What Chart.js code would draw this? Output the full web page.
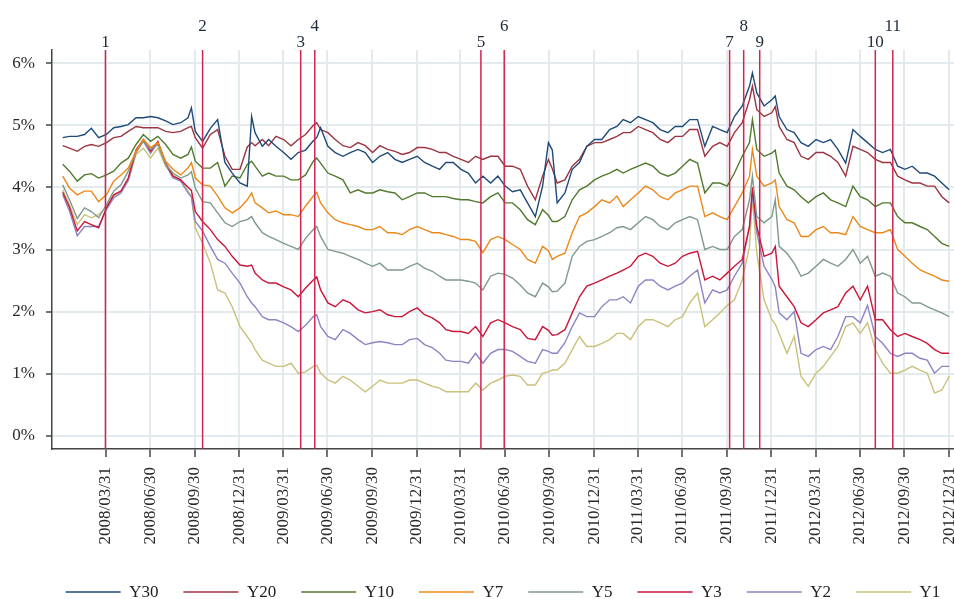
<!DOCTYPE html>
<html>
<head>
<meta charset="utf-8">
<title>Yield curve 2008-2012</title>
<script src="https://cdn.jsdelivr.net/npm/chart.js@4.4.1/dist/chart.umd.min.js"></script>
<style>
  html, body { margin: 0; padding: 0; background: #fff; overflow: hidden; }
  #yieldChart { display: block; }
</style>
</head>
<body>
<canvas id="yieldChart" width="954" height="599"></canvas>
<script>
// sample dates (about two per month, plus a few spike days)
const dates = [
  "2008-01-02","2008-01-16","2008-02-01","2008-02-16","2008-03-01","2008-03-16","2008-04-01","2008-04-16","2008-05-01","2008-05-16",
  "2008-06-01","2008-06-16","2008-07-01","2008-07-16","2008-08-01","2008-08-16","2008-09-01","2008-09-16","2008-09-23","2008-10-01",
  "2008-10-16","2008-11-01","2008-11-16","2008-12-01","2008-12-16",
  "2009-01-01","2009-01-16","2009-01-25","2009-02-01","2009-02-16","2009-03-01","2009-03-16","2009-04-01","2009-04-16","2009-05-01",
  "2009-05-16","2009-06-01","2009-06-08","2009-06-16","2009-07-01","2009-07-16","2009-08-01","2009-08-16","2009-09-01","2009-09-16",
  "2009-10-01","2009-10-16","2009-11-01","2009-11-16","2009-12-01","2009-12-16",
  "2010-01-01","2010-01-16","2010-02-01","2010-02-16","2010-03-01","2010-03-16","2010-04-01","2010-04-16","2010-05-01","2010-05-16",
  "2010-06-01","2010-06-16","2010-07-01","2010-07-16","2010-08-01","2010-08-16","2010-09-01","2010-09-16","2010-09-28","2010-10-06",
  "2010-10-16","2010-11-01","2010-11-16","2010-12-01","2010-12-16",
  "2011-01-01","2011-01-16","2011-02-01","2011-02-16","2011-03-01","2011-03-16","2011-04-01","2011-04-16","2011-05-01","2011-05-16",
  "2011-06-01","2011-06-16","2011-07-01","2011-07-16","2011-08-01","2011-08-16","2011-09-01","2011-09-16","2011-10-01","2011-10-16",
  "2011-11-01","2011-11-16","2011-11-22","2011-12-01","2011-12-16",
  "2012-01-01","2012-01-08","2012-01-16","2012-02-01","2012-02-16","2012-03-01","2012-03-16","2012-04-01","2012-04-16","2012-05-01",
  "2012-05-16","2012-06-01","2012-06-16","2012-07-01","2012-07-16","2012-08-01","2012-08-16","2012-09-01","2012-09-16","2012-10-01",
  "2012-10-16","2012-11-01","2012-11-16","2012-12-01","2012-12-16","2012-12-31"
];

const y30 = [
  4.80,4.82,4.82,4.85,4.95,4.80,4.85,4.96,4.98,5.01,5.12,5.12,5.14,5.12,5.07,5.01,5.04,5.12,5.28,4.90,4.74,4.95,5.09,4.40,4.23,
  4.07,4.02,5.14,4.88,4.66,4.77,4.66,4.56,4.45,4.56,4.60,4.75,4.80,4.96,4.66,4.56,4.50,4.56,4.61,4.56,4.40,4.50,4.56,4.45,4.40,4.45,
  4.50,4.40,4.34,4.29,4.40,4.40,4.29,4.23,4.07,4.18,4.07,4.18,4.02,3.93,3.96,3.75,3.53,4.02,4.72,4.60,3.75,3.91,4.29,4.40,4.66,
  4.77,4.77,4.93,4.98,5.09,5.04,5.14,5.09,5.04,4.93,4.88,4.98,4.98,5.09,5.09,4.66,4.98,4.93,4.88,5.14,5.31,5.63,5.84,5.52,5.31,
  5.41,5.47,5.14,4.93,4.88,4.72,4.66,4.77,4.72,4.77,4.61,4.39,4.93,4.82,4.72,4.61,4.56,4.61,4.34,4.29,4.34,4.23,4.23,4.18,4.07,3.96
];
const y20 = [
  4.67,4.63,4.58,4.66,4.69,4.66,4.72,4.80,4.82,4.90,4.98,4.96,4.96,4.96,4.90,4.88,4.90,4.96,4.98,4.80,4.63,4.85,4.93,4.50,4.29,
  4.29,4.65,4.72,4.67,4.77,4.67,4.82,4.77,4.67,4.77,4.85,5.00,5.04,4.93,4.88,4.77,4.67,4.64,4.72,4.67,4.56,4.67,4.61,4.58,4.53,4.56,
  4.64,4.64,4.61,4.56,4.56,4.50,4.45,4.40,4.50,4.45,4.50,4.50,4.34,4.34,4.29,4.02,3.80,4.18,4.45,4.30,4.07,4.12,4.34,4.45,4.66,
  4.72,4.72,4.77,4.82,4.88,4.88,4.98,4.93,4.88,4.77,4.72,4.82,4.82,4.93,4.93,4.50,4.66,4.72,4.66,4.88,5.04,5.41,5.63,5.25,5.14,
  5.20,5.30,4.98,4.77,4.72,4.50,4.45,4.56,4.56,4.50,4.40,4.18,4.66,4.61,4.56,4.45,4.40,4.40,4.18,4.12,4.07,4.07,4.02,4.02,3.85,3.75
];
const y10 = [
  4.37,4.26,4.10,4.20,4.22,4.15,4.20,4.26,4.39,4.47,4.69,4.85,4.74,4.82,4.69,4.53,4.47,4.53,4.65,4.42,4.31,4.31,4.40,4.02,4.18,
  4.15,4.37,4.42,4.34,4.18,4.23,4.18,4.18,4.12,4.12,4.20,4.42,4.47,4.39,4.23,4.18,4.12,3.91,3.96,3.91,3.91,3.96,3.93,3.91,3.80,3.85,
  3.91,3.91,3.85,3.85,3.85,3.82,3.80,3.80,3.77,3.75,3.85,3.91,3.75,3.75,3.64,3.48,3.40,3.64,3.55,3.45,3.45,3.53,3.80,3.96,4.02,
  4.12,4.18,4.23,4.29,4.23,4.29,4.34,4.39,4.34,4.23,4.18,4.23,4.34,4.45,4.39,3.91,4.07,4.07,4.02,4.23,4.50,4.72,5.09,4.61,4.50,
  4.55,4.60,4.23,4.02,3.96,3.85,3.75,3.85,3.91,3.80,3.75,3.69,4.02,3.85,3.80,3.69,3.75,3.75,3.53,3.43,3.43,3.37,3.32,3.21,3.10,3.05
];
const y7 = [
  4.18,3.99,3.88,3.94,3.94,3.77,3.88,4.10,4.20,4.31,4.58,4.77,4.64,4.72,4.42,4.29,4.20,4.31,4.40,4.15,4.04,4.02,3.86,3.67,3.59,
  3.67,3.80,3.91,3.75,3.67,3.59,3.62,3.56,3.56,3.53,3.70,3.86,3.92,3.75,3.59,3.48,3.43,3.40,3.37,3.32,3.32,3.37,3.27,3.27,3.24,3.32,
  3.37,3.32,3.27,3.27,3.24,3.21,3.16,3.16,3.13,2.95,3.16,3.21,3.16,3.08,3.00,2.84,2.78,3.05,2.98,2.84,2.89,2.94,3.27,3.53,3.59,
  3.69,3.80,3.75,3.86,3.69,3.80,3.91,4.02,3.96,3.85,3.80,3.91,3.96,4.02,4.02,3.53,3.59,3.53,3.48,3.69,3.91,4.18,4.61,4.18,4.02,
  4.07,4.12,3.69,3.48,3.43,3.21,3.21,3.32,3.37,3.27,3.27,3.24,3.53,3.37,3.32,3.27,3.27,3.32,3.00,2.89,2.78,2.67,2.62,2.57,2.51,2.49
];
const y5 = [
  4.04,3.80,3.50,3.67,3.61,3.51,3.72,3.94,4.04,4.26,4.56,4.74,4.61,4.69,4.37,4.23,4.15,4.20,4.25,3.99,3.77,3.75,3.59,3.43,3.37,
  3.45,3.48,3.53,3.43,3.27,3.21,3.16,3.10,3.05,3.00,3.18,3.32,3.37,3.21,3.00,2.97,2.94,2.89,2.84,2.78,2.73,2.78,2.67,2.67,2.67,2.73,
  2.78,2.70,2.65,2.57,2.51,2.51,2.51,2.49,2.46,2.35,2.57,2.62,2.60,2.54,2.43,2.30,2.24,2.46,2.40,2.32,2.33,2.46,2.89,3.05,3.13,
  3.16,3.21,3.27,3.35,3.37,3.32,3.43,3.53,3.48,3.37,3.32,3.43,3.48,3.53,3.48,3.00,3.05,3.00,3.00,3.21,3.32,3.80,4.18,3.53,3.43,
  3.53,3.80,3.05,2.94,2.78,2.57,2.62,2.73,2.84,2.78,2.73,2.84,3.00,2.78,2.89,2.57,2.62,2.57,2.30,2.24,2.14,2.14,2.08,2.03,1.98,1.92
];
const y3 = [
  3.92,3.68,3.30,3.45,3.40,3.35,3.67,3.88,3.94,4.15,4.60,4.77,4.58,4.74,4.39,4.18,4.12,4.00,3.95,3.61,3.45,3.32,3.16,3.05,2.89,
  2.75,2.73,2.75,2.62,2.51,2.46,2.46,2.40,2.35,2.24,2.38,2.51,2.56,2.35,2.14,2.08,2.19,2.14,2.03,1.98,2.00,2.03,1.95,1.92,1.92,2.00,
  2.06,1.95,1.90,1.82,1.71,1.68,1.68,1.65,1.76,1.60,1.82,1.87,1.82,1.76,1.71,1.57,1.55,1.76,1.70,1.62,1.63,1.71,1.98,2.24,2.41,
  2.46,2.51,2.57,2.62,2.67,2.73,2.89,2.94,2.89,2.78,2.73,2.78,2.89,2.94,2.97,2.51,2.57,2.51,2.62,2.73,2.84,3.37,4.00,3.37,2.89,
  2.94,3.05,2.41,2.24,2.08,1.82,1.76,1.87,1.98,2.03,2.08,2.30,2.41,2.19,2.41,1.87,1.87,1.71,1.60,1.65,1.60,1.55,1.49,1.39,1.33,1.33
];
const y2 = [
  3.88,3.62,3.22,3.37,3.37,3.37,3.64,3.83,3.91,4.12,4.58,4.74,4.55,4.72,4.37,4.15,4.10,3.91,3.85,3.45,3.30,3.05,2.84,2.78,2.62,
  2.46,2.24,2.14,2.08,1.92,1.87,1.87,1.82,1.76,1.68,1.78,1.92,1.95,1.76,1.60,1.55,1.71,1.65,1.55,1.47,1.50,1.52,1.50,1.47,1.47,1.55,
  1.57,1.47,1.42,1.33,1.22,1.20,1.20,1.17,1.33,1.17,1.33,1.39,1.39,1.36,1.28,1.20,1.17,1.39,1.36,1.33,1.33,1.50,1.76,1.98,1.92,
  1.92,2.08,2.19,2.19,2.24,2.14,2.41,2.51,2.51,2.41,2.35,2.41,2.46,2.57,2.67,2.14,2.35,2.30,2.35,2.57,2.78,3.37,3.90,3.27,2.73,
  2.52,2.40,1.98,1.87,2.00,1.33,1.28,1.39,1.44,1.39,1.60,1.92,1.92,1.82,2.10,1.60,1.49,1.33,1.28,1.33,1.33,1.25,1.22,1.01,1.12,1.12
];
const y1 = [
  3.96,3.72,3.40,3.56,3.51,3.56,3.69,3.86,3.94,4.10,4.53,4.63,4.47,4.63,4.34,4.20,4.12,3.94,3.85,3.35,3.10,2.78,2.35,2.30,2.08,
  1.76,1.60,1.50,1.39,1.22,1.17,1.12,1.12,1.17,1.01,1.03,1.12,1.14,1.01,0.90,0.85,0.96,0.90,0.80,0.71,0.80,0.90,0.85,0.85,0.85,0.90,
  0.90,0.85,0.80,0.77,0.71,0.71,0.71,0.71,0.85,0.74,0.85,0.90,0.96,0.98,0.96,0.82,0.82,1.01,1.03,1.06,1.06,1.17,1.39,1.60,1.44,
  1.44,1.49,1.55,1.65,1.65,1.55,1.76,1.87,1.87,1.82,1.76,1.87,1.92,2.14,2.30,1.76,1.87,1.98,2.10,2.19,2.51,3.05,3.85,2.94,2.19,
  1.87,1.80,1.65,1.33,1.60,0.96,0.80,1.01,1.12,1.28,1.44,1.76,1.82,1.65,1.82,1.39,1.17,1.01,1.01,1.06,1.12,1.06,1.01,0.69,0.74,0.96
];

const seriesNames = ["Y30", "Y20", "Y10", "Y7", "Y5", "Y3", "Y2", "Y1"];
const seriesValues = [y30, y20, y10, y7, y5, y3, y2, y1];
const seriesColors = ["#1f4a79", "#9c3541", "#527a2e", "#ec8819", "#7f998b", "#cb1639", "#8d84c3", "#c9c07a"];

const quarterEnds = [
  "2008/03/31","2008/06/30","2008/09/30","2008/12/31","2009/03/31","2009/06/30","2009/09/30","2009/12/31",
  "2010/03/31","2010/06/30","2010/09/30","2010/12/31","2011/03/31","2011/06/30","2011/09/30","2011/12/31",
  "2012/03/31","2012/06/30","2012/09/30","2012/12/31"
];
const yTicks = [0, 1, 2, 3, 4, 5, 6];

// numbered events (vertical lines)
const eventDates = ["2008-03-30","2008-10-16","2009-05-06","2009-06-04","2010-05-12","2010-06-29",
                    "2011-10-06","2011-11-04","2011-12-07","2012-08-01","2012-09-06"];
const eventNames = ["1","2","3","4","5","6","7","8","9","10","11"];

const xStart = "2007-12-11";
const xEnd = "2013-01-10";

const toDay = s => Date.parse(s.replace(/\//g, "-")) / 864e5;
const serif = "'Liberation Serif', 'Times New Roman', serif";

const eventLines = {
  id: "eventLines",
  afterDatasetsDraw(chart) {
    const { ctx, chartArea, scales } = chart;
    ctx.save();
    ctx.strokeStyle = "#cf2550";
    ctx.lineWidth = 1.5;
    ctx.fillStyle = "#1e2a3c";
    ctx.font = "17px " + serif;
    ctx.textAlign = "center";
    let prevX = -1000, prevHigh = true;
    eventDates.forEach((d, i) => {
      const x = scales.x.getPixelForValue(toDay(d));
      ctx.beginPath();
      ctx.moveTo(x, chartArea.top);
      ctx.lineTo(x, chartArea.bottom);
      ctx.stroke();
      // close labels are staggered
      const high = (x - prevX < 110) && !prevHigh;
      ctx.fillText(eventNames[i], x, high ? chartArea.top - 19 : chartArea.top - 3);
      prevX = x;
      prevHigh = high;
    });
    ctx.restore();
  }
};

const bottomLegend = {
  id: "bottomLegend",
  afterDraw(chart) {
    const { ctx, chartArea } = chart;
    const sample = 55, gap = 8.5, pad = 25, y = 592;
    ctx.save();
    ctx.font = "17px " + serif;
    const items = chart.data.datasets.map(ds => ({ ds, w: sample + gap + ctx.measureText(ds.label).width }));
    const total = items.reduce((s, it) => s + it.w, 0) + pad * (items.length - 1);
    let x = (chartArea.left + chartArea.right) / 2 - total / 2;
    ctx.textBaseline = "middle";
    items.forEach(it => {
      ctx.strokeStyle = it.ds.borderColor;
      ctx.lineWidth = 1.5;
      ctx.beginPath();
      ctx.moveTo(x, y);
      ctx.lineTo(x + sample, y);
      ctx.stroke();
      ctx.fillStyle = "#222";
      ctx.fillText(it.ds.label, x + sample + gap, y + 1);
      x += it.w + pad;
    });
    ctx.restore();
  }
};

const datasets = seriesNames.map((name, k) => ({
  label: name,
  data: dates.map((d, i) => ({ x: toDay(d), y: seriesValues[k][i] })),
  borderColor: seriesColors[k],
  backgroundColor: seriesColors[k],
  borderWidth: 1.4,
  pointRadius: 0,
  tension: 0
}));

new Chart(document.getElementById("yieldChart"), {
  type: "line",
  data: { datasets },
  plugins: [eventLines, bottomLegend],
  options: {
    responsive: false,
    animation: false,
    devicePixelRatio: 1,
    layout: { padding: { top: 50, left: 0, right: 0, bottom: 0 } },
    plugins: { legend: { display: false }, tooltip: { enabled: false } },
    scales: {
      x: {
        type: "linear",
        min: toDay(xStart),
        max: toDay(xEnd),
        afterBuildTicks: axis => { axis.ticks = quarterEnds.map(q => ({ value: toDay(q) })); },
        afterFit: axis => { axis.height = 150; axis.paddingLeft = 0; axis.paddingRight = 0; },
        ticks: {
          callback: (v, i) => quarterEnds[i],
          autoSkip: false,
          minRotation: 90,
          maxRotation: 90,
          padding: 10,
          color: "#2a2a2a",
          font: { family: serif, size: 17 }
        },
        grid: { color: "#e2eaed", lineWidth: 2, tickLength: 8, tickColor: "#444", tickWidth: 1.5 },
        border: { color: "#444", width: 1.5 }
      },
      y: {
        min: -0.21,
        max: 6.21,
        afterBuildTicks: axis => { axis.ticks = yTicks.map(v => ({ value: v })); },
        afterFit: axis => { axis.width = 52; axis.paddingTop = 0; axis.paddingBottom = 0; },
        ticks: {
          callback: v => v + "%",
          padding: 11,
          color: "#2a2a2a",
          font: { family: serif, size: 17 }
        },
        grid: { color: "#e2eaed", lineWidth: 2, tickLength: 6, tickColor: "#444", tickWidth: 1.5 },
        border: { color: "#444", width: 1.5 }
      }
    }
  }
});
</script>
</body>
</html>
